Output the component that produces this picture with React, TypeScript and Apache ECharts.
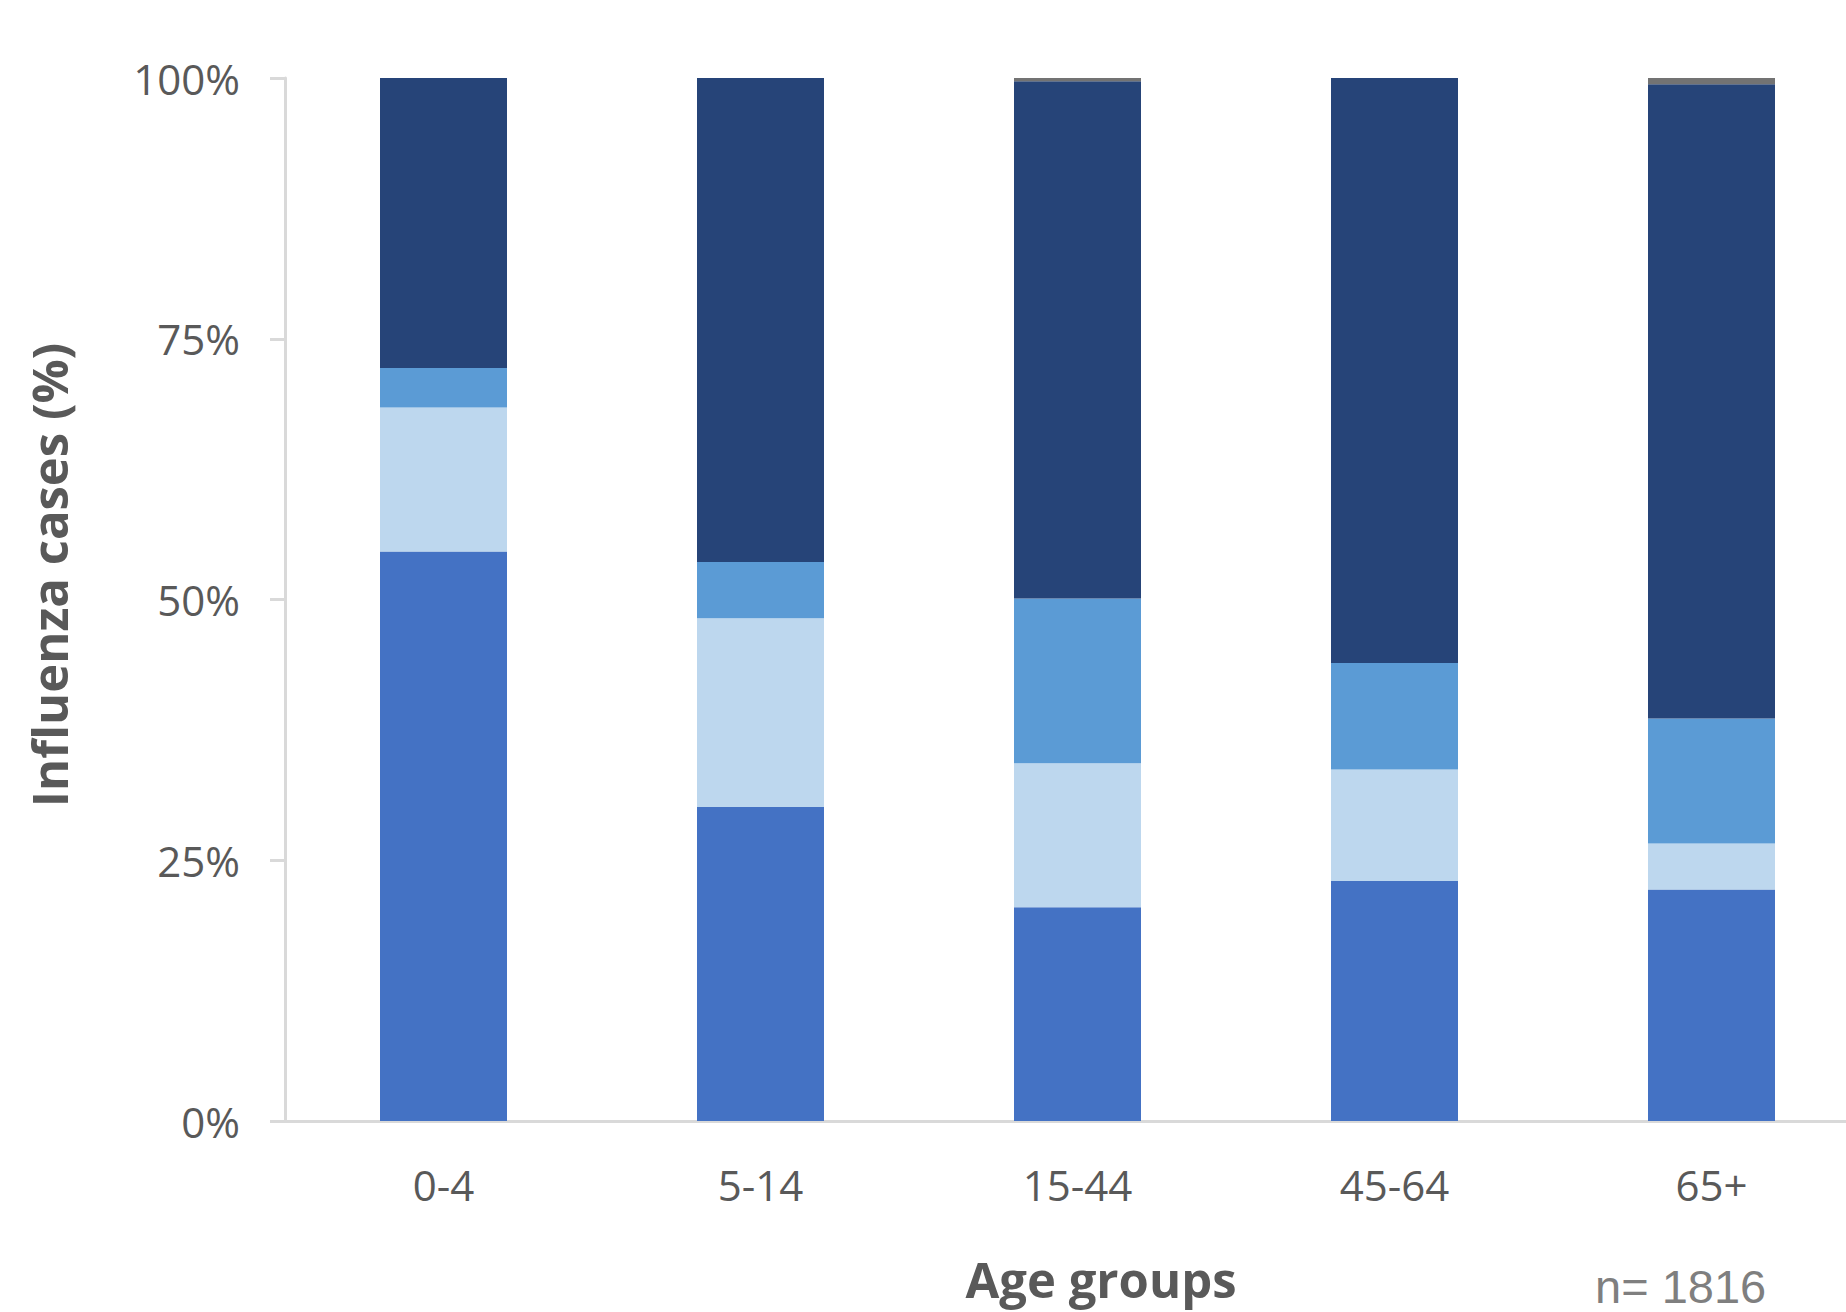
import React, { useEffect, useRef } from "react";
import * as echarts from "echarts";

// Age groups on the x axis
const ageGroups = ["0-4", "5-14", "15-44", "45-64", "65+"];

// Share of influenza cases (%) per age group, stacked bottom to top
const typeA1 = [54.6, 30.1, 20.5, 23.0, 22.2];
const typeA2 = [13.8, 18.1, 13.8, 10.7, 4.4];
const typeA3 = [3.8, 5.4, 15.8, 10.2, 12.0];
const typeB = [27.8, 46.4, 49.6, 56.1, 60.8];
const typeOther = [0, 0, 0.3, 0, 0.6];

const seriesNames = ["Type A (1)", "Type A (2)", "Type A (3)", "Type B", "Other"];
const seriesColors = ["#4472C4", "#BDD7EE", "#5B9BD5", "#264478", "#737373"];
const seriesValues = [typeA1, typeA2, typeA3, typeB, typeOther];

const totalCases = 1816;

export default function App() {
  const ref = useRef<HTMLDivElement>(null);

  useEffect(() => {
    if (!ref.current) return;
    const chart = echarts.init(ref.current, undefined, { renderer: "svg" });

    const textColor = "#595959";
    const axisGray = "#D9D9D9";

    chart.setOption({
      animation: false,
      backgroundColor: "#ffffff",
      grid: { left: 285, top: 78, width: 1585, height: 1043, containLabel: false },
      xAxis: {
        type: "category",
        data: ageGroups,
        axisLine: { show: true, lineStyle: { color: axisGray, width: 3 } },
        axisTick: { show: false },
        axisLabel: {
          color: textColor,
          fontFamily: "Open Sans",
          fontSize: 42,
          lineHeight: 42,
          margin: 42,
        },
      },
      yAxis: {
        type: "value",
        min: 0,
        max: 100,
        interval: 25,
        splitLine: { show: false },
        axisLine: { show: true, lineStyle: { color: axisGray, width: 3 } },
        axisTick: { show: true, length: 15, lineStyle: { color: axisGray, width: 3 } },
        axisLabel: {
          color: textColor,
          fontFamily: "Open Sans",
          fontSize: 42,
          margin: 45,
          formatter: "{value}%",
        },
      },
      series: seriesValues.map((vals, i) => ({
        name: seriesNames[i],
        type: "bar",
        stack: "total",
        barWidth: 127,
        data: vals,
        itemStyle: { color: seriesColors[i] },
      })),
      graphic: [
        {
          type: "text",
          x: 49,
          y: 575,
          rotation: Math.PI / 2,
          style: {
            text: "Influenza cases (%)",
            font: "bold 49px 'Open Sans'",
            fill: textColor,
            textAlign: "center",
            textVerticalAlign: "middle",
            align: "center",
            verticalAlign: "middle",
          },
        },
        {
          type: "text",
          x: 1101,
          y: 1279,
          style: {
            text: "Age groups",
            font: "bold 49px 'Open Sans'",
            fill: textColor,
            textAlign: "center",
            textVerticalAlign: "middle",
            align: "center",
            verticalAlign: "middle",
          },
        },
        {
          type: "text",
          x: 1595,
          y: 1286,
          style: {
            text: "n= " + totalCases,
            font: "47px 'Liberation Sans'",
            fill: "#7F7F7F",
            textAlign: "left",
            textVerticalAlign: "middle",
            align: "left",
            verticalAlign: "middle",
          },
        },
      ],
    });

    return () => chart.dispose();
  }, []);

  // The plot area runs past the right edge, so the chart canvas is wider
  // than the visible frame and the overflow is clipped.
  return (
    <div
      style={{
        position: "absolute",
        left: 0,
        top: 0,
        width: 1846,
        height: 1312,
        overflow: "hidden",
        background: "#ffffff",
      }}
    >
      <div ref={ref} style={{ width: 1900, height: 1312 }} />
    </div>
  );
}
